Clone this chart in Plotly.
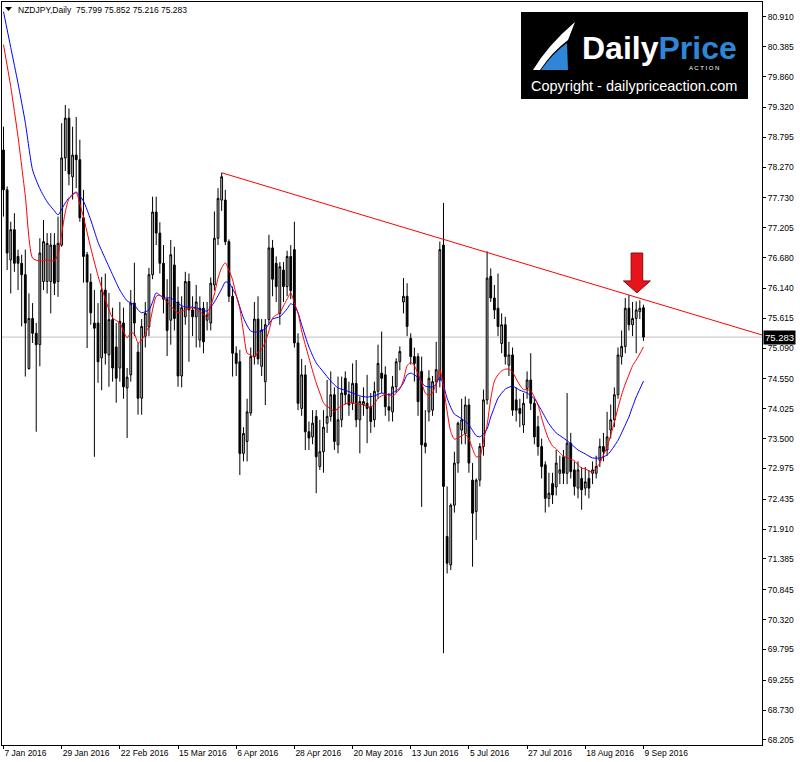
import plotly.graph_objects as go
import pandas as pd

# ---------------- data ----------------
dates = pd.bdate_range("2016-01-07", "2016-09-09")

opens = [78.57,77.87,76.64,77.17,76.70,76.58,76.38,74.73,75.61,75.35,75.15,76.26,76.26,76.26,76.90,76.26,76.90,78.43,79.13,78.10,
         78.48,78.40,77.38,76.73,76.25,75.53,75.53,74.92,76.11,74.97,75.59,75.11,74.74,75.53,74.39,74.62,75.88,75.02,74.21,75.30,
         75.46,76.38,77.48,77.11,76.58,75.95,75.58,76.55,75.90,74.60,75.64,76.26,75.76,75.64,75.23,75.79,75.58,75.53,76.20,77.02,
         77.69,77.69,76.96,76.00,75.00,74.85,73.24,73.45,73.95,74.94,75.60,74.77,74.50,75.59,76.85,76.58,75.70,76.46,76.17,76.70,
         76.82,75.18,74.03,74.62,73.62,73.53,73.89,73.01,73.27,73.77,73.89,74.27,73.39,73.83,74.56,74.27,74.12,74.47,73.83,74.10,
         74.12,74.06,73.83,74.33,74.65,74.62,74.06,73.97,74.41,74.85,75.90,76.00,75.26,74.94,74.94,74.68,73.42,73.97,74.00,74.50,
         74.53,76.90,71.78,71.28,72.33,73.07,73.65,73.59,74.09,72.77,72.22,72.77,73.36,74.18,76.35,75.97,75.79,75.17,75.50,74.79,
         74.97,74.18,74.03,73.74,74.38,74.53,74.12,73.71,73.36,73.04,72.45,72.71,72.65,72.89,73.18,72.89,73.42,72.95,72.63,72.80,
         72.63,72.80,72.89,72.89,73.12,73.36,73.30,73.65,73.83,74.27,74.94,75.12,75.79,75.50,75.61,75.73,75.799]
highs = [78.98,77.93,77.31,77.46,76.82,76.73,76.82,76.05,75.88,75.53,77.02,77.34,77.11,77.11,77.11,77.40,79.04,79.36,79.30,78.98,
         79.15,78.75,77.87,76.78,76.40,76.11,75.88,76.34,76.40,76.06,75.80,75.53,75.90,75.80,74.74,76.11,76.59,75.18,75.60,75.90,
         76.50,77.75,77.75,77.30,76.90,76.30,76.99,76.87,76.17,76.00,76.43,76.40,76.00,76.20,76.00,75.90,75.90,76.33,77.49,77.90,
         78.17,77.87,77.00,76.17,75.12,75.06,73.70,74.20,75.10,75.90,76.00,75.60,75.60,77.08,76.99,76.70,76.60,76.60,76.80,76.90,
         77.31,75.35,74.90,74.79,73.80,74.00,74.00,73.83,74.00,74.53,74.68,74.40,74.59,74.59,74.68,74.50,74.82,74.88,74.24,74.40,
         74.62,74.30,74.50,75.15,75.38,74.77,74.30,74.60,74.91,75.12,76.32,76.23,75.35,75.10,75.00,74.94,74.00,74.70,74.60,75.20,
         76.96,77.64,72.66,72.36,73.27,73.80,74.20,74.24,74.20,73.07,72.80,73.42,74.36,76.79,76.49,76.20,76.40,75.70,75.64,75.20,
         75.10,74.40,74.20,74.30,74.68,75.00,74.20,73.90,73.50,73.10,72.90,72.90,73.30,73.20,73.30,74.30,73.60,73.10,73.10,73.00,
         73.00,72.95,73.10,73.20,73.50,73.60,73.97,74.10,74.40,75.10,75.40,75.97,76.02,75.90,75.91,75.93,75.852]
lows = [77.40,76.46,76.05,76.43,76.11,75.47,74.59,74.71,75.18,73.62,74.77,76.11,76.05,75.70,76.02,75.99,76.87,78.20,77.95,77.70,
        77.90,77.31,76.24,75.09,75.50,73.18,74.48,74.35,74.80,74.41,74.50,74.13,74.50,74.20,73.51,74.50,75.30,73.92,73.92,75.10,
        75.30,76.30,76.90,76.40,75.70,74.95,75.15,75.40,74.41,74.40,75.50,74.85,75.30,75.10,75.10,75.00,75.40,75.40,76.10,76.90,
        77.50,76.90,75.90,74.59,74.60,72.86,73.10,73.10,73.90,74.80,74.80,74.60,74.09,75.50,76.00,75.90,75.50,75.90,76.00,75.95,
        75.10,74.00,73.90,73.30,73.30,73.40,72.54,72.95,72.90,73.60,73.80,73.30,73.24,73.70,74.10,73.90,74.00,73.70,73.24,73.90,
        73.42,73.60,73.70,74.20,74.30,73.90,73.80,73.80,74.30,74.70,75.70,75.30,74.80,74.50,73.90,72.30,73.24,73.80,73.90,74.30,
        74.40,69.73,71.13,71.19,72.20,72.90,73.40,73.40,72.90,71.25,71.72,72.66,73.20,74.10,75.90,75.60,75.30,75.00,74.80,74.60,
        73.90,73.80,73.70,73.60,74.20,74.00,73.40,73.20,72.80,72.20,72.30,72.35,72.50,72.70,72.70,72.70,72.80,72.50,72.45,72.25,
        72.50,72.45,72.70,72.80,73.00,73.10,73.20,73.50,73.70,74.20,74.80,75.00,75.40,75.30,75.00,75.60,75.216]
closes = [77.87,76.76,77.17,76.58,76.58,76.38,75.53,75.61,75.35,75.15,76.76,76.96,76.93,76.90,76.23,76.93,78.43,79.13,78.15,78.48,
          78.40,77.38,76.70,76.25,75.71,75.44,74.85,76.11,75.00,75.59,74.74,74.56,75.56,74.41,74.58,75.88,75.53,74.21,75.47,75.70,
          76.38,77.48,77.11,76.58,75.95,75.40,76.73,75.61,74.60,75.80,76.26,75.76,75.64,75.90,75.79,75.20,75.67,76.23,77.02,77.72,
          78.10,76.96,76.00,75.00,74.82,73.24,73.59,73.97,74.94,75.60,74.90,75.41,75.50,76.85,76.30,76.17,76.52,76.17,76.70,76.10,
          75.18,74.12,74.62,73.62,73.51,73.77,73.18,73.27,73.70,73.89,74.27,73.45,73.83,74.30,74.27,74.09,74.47,73.83,74.15,74.15,
          74.03,73.80,74.33,74.82,74.56,74.06,74.00,74.41,74.85,75.03,76.00,75.47,74.94,74.82,74.15,73.39,73.36,74.56,74.50,74.71,
          76.82,72.66,71.31,72.33,73.07,73.77,73.83,74.09,73.07,72.19,72.77,73.36,74.18,76.32,75.97,75.76,75.47,75.50,74.94,74.97,
          74.00,74.00,73.94,74.12,74.53,74.12,73.53,73.36,73.01,72.45,72.54,72.51,73.07,72.95,72.89,73.42,72.92,72.66,72.95,72.60,
          72.74,72.63,72.95,73.01,73.36,73.27,73.53,73.83,74.27,74.97,75.12,75.79,75.50,75.61,75.76,75.79,75.283]

# moving averages (bar index, price)
red_idx = [0,2,4,6,8,10,12,14,15,16,17,18,20,21,22,24,26,28,30,32,34,35,36,37,38,40,42,43,44,46,48,50,52,54,56,57,58,59,60,61,62,63,64,65,66,67,68,69,70,
           71,72,73,74,75,76,77,78,79,80,81,82,83,84,85,86,87,88,89,90,91,92,93,94,95,96,97,98,99,100,101,102,103,104,105,106,107,108,109,110,
           111,112,113,114,115,116,117,118,119,120,121,122,123,124,125,126,127,128,129,130,131,132,133,134,135,136,137,138,139,140,141,142,143,
           144,145,146,147,148,149,150,151,152,153,154,155,156,157,158,159,160,161,162,163,164,165,166,167,168,169,170,171,172,173,174,175,176]
red_val = [80.42,79.68,78.80,77.76,76.67,76.62,76.64,76.62,76.74,77.10,77.48,77.71,77.82,77.62,77.39,76.85,76.36,75.95,75.62,75.53,75.27,75.36,75.34,75.18,75.23,
           75.48,76.00,76.02,75.97,75.83,75.71,75.76,75.80,75.73,75.64,75.83,76.04,76.32,76.50,76.59,76.46,76.29,76.02,75.78,75.37,75.00,74.97,74.93,75.02,
           75.07,75.20,75.39,75.62,75.67,75.71,75.83,75.95,76.06,75.88,75.71,75.39,75.15,74.92,74.69,74.48,74.30,74.13,74.06,74.03,73.97,74.04,74.07,74.11,
           74.13,74.13,74.11,74.10,74.09,74.06,74.05,74.11,74.21,74.25,74.28,74.27,74.24,74.30,74.37,74.53,74.78,74.84,74.78,74.64,74.48,74.30,74.26,74.30,
           74.48,74.71,74.41,73.98,73.62,73.49,73.51,73.55,73.58,73.49,73.32,73.18,73.19,73.46,73.74,74.20,74.51,74.62,74.69,74.72,74.72,74.67,74.55,74.44,
           74.36,74.36,74.34,74.23,74.09,73.86,73.65,73.48,73.37,73.32,73.25,73.19,73.16,73.14,73.11,73.04,72.98,72.97,72.93,72.91,72.98,73.07,73.21,73.35,
           73.56,73.79,74.04,74.27,74.46,74.62,74.78,74.88,74.99,75.11]
blue_idx = [0,2,4,6,8,10,12,14,15,16,17,18,20,22,24,26,28,30,32,34,36,37,38,40,41,42,44,46,48,50,52,54,56,58,60,61,62,63,64,66,68,70,72,74,76,78,79,80,81,82,
            84,86,88,90,92,94,96,98,100,102,104,106,108,109,110,111,112,113,114,116,118,119,120,121,122,123,124,126,128,130,131,132,133,134,135,136,138,
            140,142,144,146,148,150,152,154,156,158,160,162,164,166,167,168,169,170,171,172,173,174,175,176]
blue_val = [81.00,80.37,79.74,79.05,78.22,77.89,77.66,77.50,77.43,77.53,77.64,77.73,77.83,77.67,77.34,76.95,76.66,76.38,76.11,75.92,75.85,75.76,75.71,75.76,
            75.90,76.06,75.97,75.97,75.87,75.81,75.81,75.78,75.74,75.90,76.13,76.25,76.24,76.13,76.01,75.62,75.39,75.37,75.43,75.60,75.64,75.78,75.87,75.83,
            75.71,75.50,75.11,74.83,74.67,74.51,74.39,74.35,74.30,74.25,74.23,74.25,74.30,74.27,74.34,74.39,74.48,74.62,74.65,74.62,74.57,74.42,74.41,74.46,
            74.58,74.44,74.21,74.05,73.93,73.85,73.74,73.55,73.53,73.58,73.67,73.88,74.05,74.21,74.37,74.42,74.35,74.30,74.20,73.99,73.76,73.60,73.51,73.41,
            73.30,73.23,73.16,73.16,73.21,73.28,73.37,73.47,73.60,73.74,73.88,74.06,74.23,74.37,74.51]

# trend line anchors (bar index, price)
trend_x = [60, 208.6]
trend_y = [78.17, 75.32]

tick_idx = [0, 16, 32, 48, 64, 80, 96, 112, 128, 144, 160, 176]
tick_text = ["7 Jan 2016", "29 Jan 2016", "22 Feb 2016", "15 Mar 2016", "6 Apr 2016", "28 Apr 2016",
             "20 May 2016", "13 Jun 2016", "5 Jul 2016", "27 Jul 2016", "18 Aug 2016", "9 Sep 2016"]
y_ticks = [80.910, 80.385, 79.860, 79.320, 78.795, 78.270, 77.730, 77.205, 76.680, 76.140, 75.615, 75.090,
           74.550, 74.025, 73.500, 72.975, 72.435, 71.910, 71.385, 70.845, 70.320, 69.795, 69.255, 68.730, 68.205]
last_price = 75.283
header = "NZDJPY,Daily  75.799 75.852 75.216 75.283"

# ---------------- figure ----------------
W, H = 800, 762
ML, MR, MT, MB = 2, 38, 2, 17
PW, PH = W - ML - MR, H - MT - MB


def px(xp):
    return (xp - ML) / PW


def py(yp):
    return 1 - (yp - MT) / PH


xs = list(range(len(dates)))
fig = go.Figure()
fig.add_trace(go.Candlestick(
    x=xs, open=opens, high=highs, low=lows, close=closes,
    increasing=dict(line=dict(color="black", width=1), fillcolor="#c4c4c4"),
    decreasing=dict(line=dict(color="black", width=1), fillcolor="black"),
    whiskerwidth=0, hoverinfo="skip"))
fig.add_trace(go.Scatter(x=blue_idx, y=blue_val, mode="lines",
                         line=dict(color="#0000ff", width=1, shape="spline", smoothing=0.6), hoverinfo="skip"))
fig.add_trace(go.Scatter(x=red_idx, y=red_val, mode="lines",
                         line=dict(color="#ff0000", width=1, shape="spline", smoothing=0.6), hoverinfo="skip"))
fig.add_trace(go.Scatter(x=trend_x, y=trend_y, mode="lines",
                         line=dict(color="#ff0000", width=1), hoverinfo="skip"))

shapes = []
# bid line
shapes.append(dict(type="line", xref="paper", x0=0, x1=1, yref="y", y0=last_price, y1=last_price,
                   line=dict(color="#c0c0c0", width=1), layer="below"))
# arrow (data units)
ax, tip, base, top = 174.2, 76.06, 76.27, 76.76
shapes.append(dict(type="path", xref="x", yref="y",
                   path=f"M {ax-1.6},{top} L {ax+1.6},{top} L {ax+1.6},{base} L {ax+3.7},{base} L {ax},{tip} "
                        f"L {ax-3.7},{base} L {ax-1.6},{base} Z",
                   fillcolor="#e8141c", line=dict(color="#8a0a0e", width=1)))
# logo box
shapes.append(dict(type="rect", xref="paper", yref="paper", x0=px(521), x1=px(748), y0=py(99), y1=py(12),
                   fillcolor="black", line=dict(width=0)))
# logo icon approximations
shapes.append(dict(type="path", xref="paper", yref="paper",
                   path=f"M {px(533)},{py(70)} Q {px(548)},{py(45)} {px(575)},{py(22)} L {px(568)},{py(40)} "
                        f"Q {px(552)},{py(52)} {px(540)},{py(70)} Z",
                   fillcolor="white", line=dict(width=0)))
shapes.append(dict(type="path", xref="paper", yref="paper",
                   path=f"M {px(541)},{py(70)} Q {px(553)},{py(53)} {px(567)},{py(43)} L {px(568)},{py(70)} Z",
                   fillcolor="#2f86d6", line=dict(width=0)))
# header triangle
shapes.append(dict(type="path", xref="paper", yref="paper",
                   path=f"M {px(5)},{py(7)} L {px(12)},{py(7)} L {px(8.5)},{py(11)} Z",
                   fillcolor="black", line=dict(width=0)))

annotations = [
    dict(xref="paper", yref="paper", x=px(16), y=py(9.5), xanchor="left", yanchor="middle",
         text=header, showarrow=False, font=dict(family="Liberation Sans", size=8.5, color="black")),
    dict(xref="paper", yref="y", x=1, y=last_price, xanchor="left", yanchor="middle", xshift=1,
         text=f"{last_price:.3f}", showarrow=False, bgcolor="black", borderpad=1,
         font=dict(family="Liberation Sans", size=9.5, color="white")),
    dict(xref="paper", yref="paper", x=px(580), y=py(48), xanchor="left", yanchor="middle",
         text="<b>Daily</b><b><span style='color:#2f86d6'>Price</span></b>", showarrow=False,
         font=dict(family="Liberation Sans", size=32, color="white")),
    dict(xref="paper", yref="paper", x=px(704), y=py(68), xanchor="center", yanchor="middle",
         text="A C T I O N", showarrow=False, font=dict(family="Liberation Sans", size=6, color="white")),
    dict(xref="paper", yref="paper", x=px(634), y=py(86), xanchor="center", yanchor="middle",
         text="Copyright - dailypriceaction.com", showarrow=False,
         font=dict(family="Liberation Sans", size=14.5, color="white")),
]

fig.update_layout(
    width=W, height=H, margin=dict(l=ML, r=MR, t=MT, b=MB),
    paper_bgcolor="white", plot_bgcolor="white", showlegend=False,
    shapes=shapes, annotations=annotations,
    xaxis=dict(range=[-0.41, 208.6], tickvals=tick_idx, ticktext=tick_text, ticks="outside", ticklen=3,
               tickcolor="black", showgrid=False, zeroline=False, showline=True, linecolor="black",
               linewidth=1, mirror=True, ticklabelposition="outside right", rangeslider=dict(visible=False),
               tickfont=dict(family="Liberation Sans", size=8.5, color="black")),
    yaxis=dict(side="right", range=[68.117, 81.17], tickvals=y_ticks, ticktext=[f"{v:.3f}" for v in y_ticks],
               ticks="outside", ticklen=3, tickcolor="black", showgrid=False, zeroline=False, showline=True,
               linecolor="black", linewidth=1, mirror=True,
               tickfont=dict(family="Liberation Sans", size=8.5, color="black")),
)

fig.write_html("out.html")
